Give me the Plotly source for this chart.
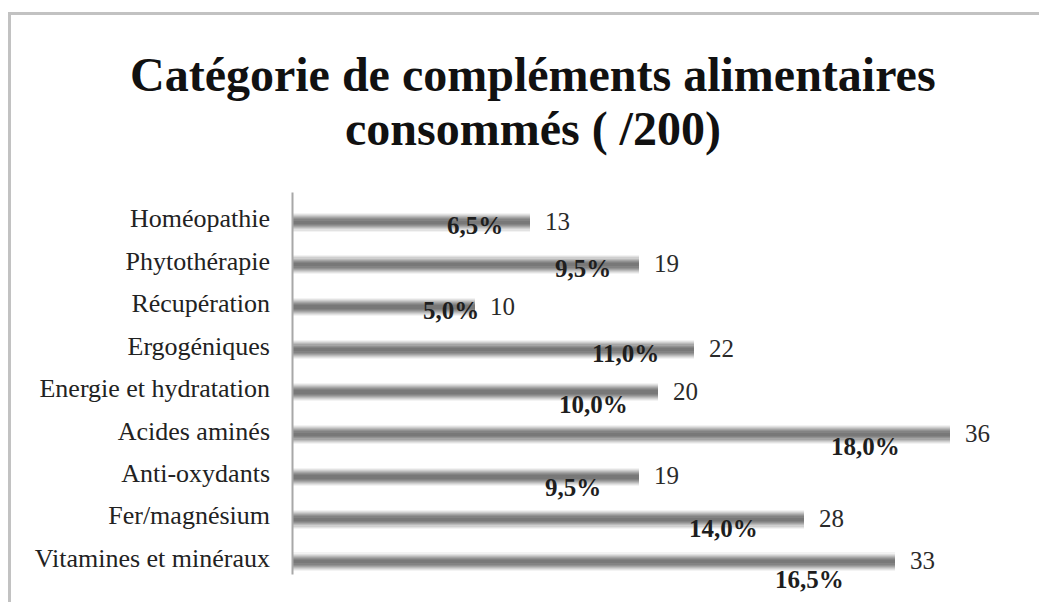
import plotly.graph_objects as go

categories = ["Homéopathie", "Phytothérapie", "Récupération", "Ergogéniques",
              "Energie et hydratation", "Acides aminés", "Anti-oxydants",
              "Fer/magnésium", "Vitamines et minéraux"]
values = [13, 19, 10, 22, 20, 36, 19, 28, 33]
total = 200

# label nudges (pixels) for the percentage labels, relative to bar end / bar centre
pct_xshift = [-25, -26, 6, -33, -28, -48, -36, -44, -49]
pct_yshift = [-3, -4, -3, -4, -12, -12, -11, -9, -18]

# the page places the figure 8px from the top-left corner
OX, OY = 8, 8
W, H = 1047 - OX, 602 - OY
L, T = 292 - OX, 200.5 - OY
B = H - (583.5 - OY)
R = 47
pw, ph = W - L - R, H - T - B
px_per_unit = 18.28
xmax = pw / px_per_unit

FONT = "Liberation Serif"

fig = go.Figure()
layers = [(0.44, "#f3f3f3"), (0.39, "#e2e2e2"), (0.34, "#cfcfcf"),
          (0.29, "#bababa"), (0.24, "#a5a5a5"), (0.19, "#929292"),
          (0.14, "#838383"), (0.08, "#787878")]
for wdt, col in layers:
    fig.add_trace(go.Bar(
        y=categories, x=values, orientation="h", width=wdt,
        marker=dict(color=col, line=dict(width=0)),
        showlegend=False, hoverinfo="skip"))


def px_to_paper_x(px):
    return (px - OX - L) / pw


def px_to_paper_y(py):
    return (H - B - (py - OY)) / ph


annotations = []
for cat, v, dx, dy in zip(categories, values, pct_xshift, pct_yshift):
    annotations.append(dict(
        x=v, y=cat, xref="x", yref="y", text=str(v), showarrow=False,
        xanchor="left", yanchor="middle", xshift=13, yshift=1,
        font=dict(family=FONT, size=25, color="#2a2a2a")))
    pct = f"{v / total * 100:.1f}".replace(".", ",") + "%"
    annotations.append(dict(
        x=v, y=cat, xref="x", yref="y", text=f"<b>{pct}</b>", showarrow=False,
        xanchor="right", yanchor="middle", xshift=dx, yshift=dy,
        font=dict(family=FONT, size=25, color="#1e1e1e")))

title_lines = ["Catégorie de compléments alimentaires", "consommés ( /200)"]
for line, py in zip(title_lines, [74, 128]):
    annotations.append(dict(
        x=px_to_paper_x(533), y=px_to_paper_y(py), xref="paper", yref="paper",
        showarrow=False, text=f"<b>{line}</b>", xanchor="center",
        yanchor="middle", font=dict(family=FONT, size=48, color="#111111")))

shapes = [
    # chart frame
    dict(type="line", xref="paper", yref="paper",
         x0=px_to_paper_x(9.5), x1=px_to_paper_x(9.5),
         y0=px_to_paper_y(11), y1=px_to_paper_y(620),
         line=dict(color="#c2c2c2", width=3)),
    dict(type="line", xref="paper", yref="paper",
         x0=px_to_paper_x(8), x1=px_to_paper_x(1070),
         y0=px_to_paper_y(12.5), y1=px_to_paper_y(12.5),
         line=dict(color="#c2c2c2", width=3)),
    # vertical category axis line
    dict(type="line", xref="paper", yref="paper",
         x0=px_to_paper_x(292.5), x1=px_to_paper_x(292.5),
         y0=px_to_paper_y(192), y1=px_to_paper_y(575),
         line=dict(color="#a8a8a8", width=2)),
]

fig.update_layout(
    width=W, height=H, autosize=False,
    margin=dict(l=L, r=R, t=T, b=B, pad=0),
    paper_bgcolor="white", plot_bgcolor="white",
    barmode="overlay", bargap=0,
    annotations=annotations, shapes=shapes,
    hovermode=False,
    xaxis=dict(range=[0, xmax], visible=False, fixedrange=True),
    yaxis=dict(autorange="reversed", showline=False,
               ticks="", showgrid=False, zeroline=False,
               ticklabelstandoff=21, ticklabelshift=4,
               tickfont=dict(family=FONT, size=26, color="#222222"),
               fixedrange=True),
)

fig.write_html("out.html", config={"displayModeBar": False})
